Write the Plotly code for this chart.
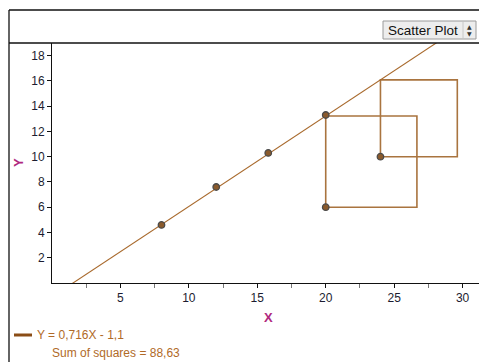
import plotly.graph_objects as go

# Observations
x_vals = [8, 12, 15.8, 20, 20, 24]
y_vals = [4.6, 7.6, 10.3, 13.3, 6, 10]

# Fitted line Y = slope*X + intercept
slope = 0.716
intercept = -1.1
sum_sq_label = "88,63"

x_ticks = [5, 10, 15, 20, 25, 30]
x_minor = [2.5, 7.5, 12.5, 17.5, 22.5, 27.5]
y_ticks = [2, 4, 6, 8, 10, 12, 14, 16, 18]

X_RANGE = [0, 31.2]
Y_RANGE = [0, 19]

W, H = 479, 362
L, R, T, B = 52, 0, 43, 79
PW, PH = W - L - R, H - T - B

BROWN = "#a8692c"
SQ_BROWN = "#a9743f"
MAGENTA = "#b0287e"
TEXT = "#1c1c30"


def paper_x(px):
    return (px - L) / PW


def paper_y(py):
    return (H - B - py) / PH


fig = go.Figure()

# Residual squares, drawn square on screen: side spans |residual| in Y,
# converted to X units with the axis pixel scales.
y_px_per_unit = PH / (Y_RANGE[1] - Y_RANGE[0])
x_px_per_unit = PW / (X_RANGE[1] - X_RANGE[0])
for xv, yv in zip(x_vals, y_vals):
    yhat = slope * xv + intercept
    side_y = yhat - yv
    side_x = abs(side_y) * y_px_per_unit / x_px_per_unit
    fig.add_trace(go.Scatter(
        x=[xv, xv + side_x, xv + side_x, xv, xv],
        y=[yv, yv, yhat, yhat, yv],
        mode="lines", line=dict(color=SQ_BROWN, width=1.6),
        hoverinfo="skip", showlegend=False,
    ))

# Regression line across the visible x range
fig.add_trace(go.Scatter(
    x=X_RANGE,
    y=[slope * v + intercept for v in X_RANGE],
    mode="lines", line=dict(color=BROWN, width=1.1),
    showlegend=False,
))

# Data points
fig.add_trace(go.Scatter(
    x=x_vals, y=y_vals, mode="markers",
    marker=dict(size=6.5, color="#8a5a2c", line=dict(color="#4a4a4a", width=1.3)),
    showlegend=False,
))

axis_font = dict(family="Liberation Sans, Arial, sans-serif", size=12, color=TEXT)

fig.update_xaxes(
    range=X_RANGE, showgrid=False, zeroline=False,
    showline=True, linecolor="#111", linewidth=1,
    tickmode="array", tickvals=x_ticks, ticks="outside", ticklen=4,
    tickcolor="#111", tickfont=axis_font,
    minor=dict(tickmode="array", tickvals=x_minor, ticks="outside",
               ticklen=4, tickcolor="#777"),
)
fig.update_yaxes(
    range=Y_RANGE, showgrid=False, zeroline=False,
    showline=True, linecolor="#111", linewidth=1,
    tickmode="array", tickvals=y_ticks, ticks="outside", ticklen=4,
    tickcolor="#111", tickfont=axis_font,
)

shapes = [
    # outer frame
    dict(type="line", xref="paper", yref="paper",
         x0=paper_x(9), x1=paper_x(W + 2), y0=paper_y(10), y1=paper_y(10),
         line=dict(color="#111", width=1.3)),
    dict(type="line", xref="paper", yref="paper",
         x0=paper_x(9), x1=paper_x(9), y0=paper_y(10), y1=paper_y(H + 2),
         line=dict(color="#111", width=1.3)),
    dict(type="line", xref="paper", yref="paper",
         x0=paper_x(9), x1=paper_x(W + 2), y0=paper_y(43), y1=paper_y(43),
         line=dict(color="#111", width=1.3)),
    # menu button
    dict(type="rect", xref="paper", yref="paper",
         x0=paper_x(383), x1=paper_x(476), y0=paper_y(21), y1=paper_y(39),
         fillcolor="#ededed", line=dict(color="#9a9a9a", width=1)),
    dict(type="line", xref="paper", yref="paper",
         x0=paper_x(463), x1=paper_x(463), y0=paper_y(22), y1=paper_y(38),
         line=dict(color="#c8c8c8", width=1)),
    # legend swatch
    dict(type="line", xref="paper", yref="paper",
         x0=paper_x(14), x1=paper_x(32), y0=paper_y(335), y1=paper_y(335),
         line=dict(color="#8a4d16", width=3)),
]

label_font = dict(family="Liberation Sans, Arial, sans-serif", size=13, color=MAGENTA)
legend_font = dict(family="Liberation Sans, Arial, sans-serif", size=12, color="#b06a28")

annotations = [
    dict(text="<b>X</b>", x=paper_x(268), y=paper_y(317), xref="paper", yref="paper",
         showarrow=False, font=label_font, xanchor="center", yanchor="middle"),
    dict(text="<b>Y</b>", x=paper_x(18), y=paper_y(163), xref="paper", yref="paper",
         showarrow=False, font=label_font, textangle=-90,
         xanchor="center", yanchor="middle"),
    dict(text="Scatter Plot", x=paper_x(386), y=paper_y(30.5), xref="paper", yref="paper",
         showarrow=False, xanchor="left", yanchor="middle",
         font=dict(family="Liberation Sans, Arial, sans-serif", size=13.5, color="#111")),
    dict(text="▲", x=paper_x(469.5), y=paper_y(26.5), xref="paper", yref="paper",
         showarrow=False, xanchor="center", yanchor="middle",
         font=dict(family="DejaVu Sans", size=6, color="#333")),
    dict(text="▼", x=paper_x(469.5), y=paper_y(33.5), xref="paper", yref="paper",
         showarrow=False, xanchor="center", yanchor="middle",
         font=dict(family="DejaVu Sans", size=6, color="#333")),
    dict(text="Y = 0,716X - 1,1", x=paper_x(35), y=paper_y(335), xref="paper", yref="paper",
         showarrow=False, xanchor="left", yanchor="middle", font=legend_font),
    dict(text="Sum of squares = " + sum_sq_label, x=paper_x(50), y=paper_y(353),
         xref="paper", yref="paper", showarrow=False,
         xanchor="left", yanchor="middle", font=legend_font),
]

fig.update_layout(
    width=W, height=H,
    margin=dict(l=L, r=R, t=T, b=B, pad=0),
    paper_bgcolor="white", plot_bgcolor="white",
    shapes=shapes, annotations=annotations,
    showlegend=False,
)

fig.write_html("out.html")
